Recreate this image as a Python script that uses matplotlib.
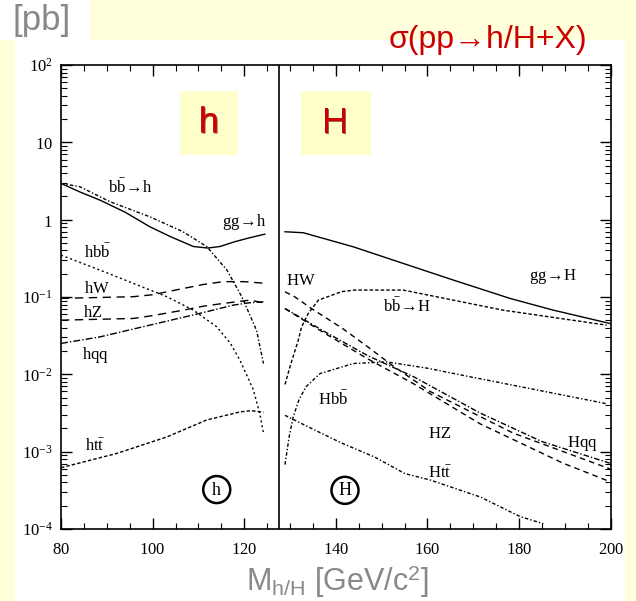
import numpy as np
import matplotlib
matplotlib.use('Agg')
import matplotlib.pyplot as plt
from matplotlib.patches import Rectangle
from matplotlib.ticker import MultipleLocator, LogLocator, FuncFormatter, NullFormatter
import matplotlib.patheffects as pe

plt.rcParams['mathtext.fontset'] = 'custom'
plt.rcParams['mathtext.rm'] = 'Liberation Serif'
plt.rcParams['mathtext.it'] = 'Liberation Serif:italic'
plt.rcParams['mathtext.sf'] = 'Liberation Sans'

# light higgs h (left half), cross sections in pb
x_gg_h = [80, 84, 88.5, 94, 99.4, 104, 108.9, 112, 114.7, 118, 121, 124.5]
gg_h = [2.95, 2.3, 1.79, 1.25, 0.81, 0.6, 0.45, 0.43, 0.45, 0.52, 0.58, 0.65]
x_bb_h = [80, 84.1, 90.7, 99.4, 106.6, 111.8, 116.2, 119.5, 122.7, 124.2]
bb_h = [2.95, 2.67, 1.71, 1.09, 0.70, 0.45, 0.224, 0.10, 0.037, 0.0138]
x_hbb = [80, 88.5, 95.8, 103.1, 108.9, 114, 117, 119.1, 122, 123.4, 124.2]
hbb = [0.348, 0.223, 0.150, 0.101, 0.0676, 0.0412, 0.0251, 0.0151, 0.0063, 0.0031, 0.00174]
x_hW = [80, 95.8, 100, 106.7, 111, 115.4, 120, 124.2]
hW = [0.096, 0.101, 0.107, 0.129, 0.145, 0.158, 0.158, 0.151]
x_hZ = [80, 95.8, 100, 106.7, 111, 115.4, 121.3, 124.2]
hZ = [0.0502, 0.0528, 0.0575, 0.0676, 0.0759, 0.0826, 0.0912, 0.0841]
x_hqq = [80, 88.5, 99.4, 110.3, 117.6, 121, 124.2]
hqq = [0.0251, 0.0305, 0.0433, 0.0614, 0.0785, 0.0841, 0.0867]
x_htt = [80, 92.2, 103.1, 111.8, 119.1, 121.5, 124.2]
htt = [6.2e-4, 9.5e-4, 1.55e-3, 2.57e-3, 3.27e-3, 3.39e-3, 3.24e-3]

# heavy higgs H (right half)
x_gg_H = [128.9, 132.9, 143.8, 154.7, 165.6, 178, 187.5, 199.8]
gg_H = [0.698, 0.678, 0.446, 0.272, 0.166, 0.096, 0.0676, 0.0455]
x_bb_H = [128.9, 130, 131.1, 131.8, 132.5, 134, 136.2, 141.3, 144.2, 154.7, 165.6, 176.5, 199.1]
bb_H = [0.0074, 0.0126, 0.0204, 0.0275, 0.0407, 0.0617, 0.0912, 0.1175, 0.123, 0.123, 0.0912, 0.0676, 0.0433]
x_Hbb = [128.9, 129.8, 130.7, 132, 133.5, 136.5, 143.8, 151.1, 160, 169.3, 183.8, 199.1]
Hbb = [6.8e-4, 1.55e-3, 2.82e-3, 4.79e-3, 6.92e-3, 0.0102, 0.0138, 0.0145, 0.0120, 0.0093, 0.0063, 0.00417]
x_HW = [128.9, 131.1, 134.7, 141.3, 147.1, 152.2, 160.6, 178.7, 199.8]
HW = [0.117, 0.100, 0.0708, 0.0398, 0.0224, 0.0132, 0.0060, 0.00174, 0.00060]
x_Hqq = [128.9, 137.6, 147, 157, 171.5, 185, 199.8]
Hqq = [0.0711, 0.0355, 0.0174, 0.0093, 0.00316, 0.00135, 0.00071]
x_HZ = [128.9, 137.6, 147, 156.9, 171.5, 189.6, 199.8]
HZ = [0.0708, 0.0339, 0.0158, 0.0076, 0.00229, 0.00071, 0.00041]
x_Htt = [128.9, 134, 141.3, 148.5, 155.1, 160.6, 171.5, 180.2, 185.3]
Htt = [0.00295, 0.00209, 0.00129, 0.00085, 0.00052, 0.00043, 0.00026, 0.000145, 0.000117]

m_split = 127.65

yellow = '#ffffdc'
fig = plt.figure(figsize=(6.36, 6.01), dpi=100)
fig.patch.set_facecolor('white')
# cream bands round the plot
for r in [(0.1415, 0.9334, 0.8585, 0.0666), (0, 0, 0.0236, 0.9334), (0.9827, 0, 0.0173, 0.9334)]:
    fig.patches.append(Rectangle(r[:2], r[2], r[3], transform=fig.transFigure,
                                 facecolor=yellow, edgecolor='none', zorder=-5))

ax = fig.add_axes([0.0959, 0.1198, 0.8643, 0.772])
ax.set_yscale('log')
ax.set_xlim(80, 200)
ax.set_ylim(1e-4, 1e2)

lw = 1.0
ax.plot(x_gg_h, gg_h, color='k', lw=lw)
ax.plot(x_bb_h, bb_h, color='k', lw=lw, ls=(0, (2.5, 1.5, 1, 1.5)))
ax.plot(x_hbb, hbb, color='k', lw=lw, ls=(0, (1.5, 2)))
ax.plot(x_hW, hW, color='k', lw=lw, ls=(0, (6, 4)))
ax.plot(x_hZ, hZ, color='k', lw=lw, ls=(0, (6, 4)))
ax.plot(x_hqq, hqq, color='k', lw=lw, ls=(0, (5, 1.5, 1, 1.5)))
ax.plot(x_htt, htt, color='k', lw=lw, ls=(0, (2.5, 1.5)))

ax.plot(x_gg_H, gg_H, color='k', lw=lw)
ax.plot(x_bb_H, bb_H, color='k', lw=lw, ls=(0, (2.5, 1.5)))
ax.plot(x_Hbb, Hbb, color='k', lw=lw, ls=(0, (2.5, 1.5, 1, 1.5)))
ax.plot(x_HW, HW, color='k', lw=lw, ls=(0, (4, 3)))
ax.plot(x_HZ, HZ, color='k', lw=lw, ls=(0, (4, 3)))
ax.plot(x_Hqq, Hqq, color='k', lw=lw, ls=(0, (4, 1.5, 1, 1.5)))
ax.plot(x_Htt, Htt, color='k', lw=lw, ls=(0, (2.5, 1.5, 1, 1.5)))

ax.axvline(m_split, color='k', lw=1.2)

# curve labels
lab = dict(fontsize=12, ha='center', va='center')
ax.text(95.1, 10**0.42, r'$\mathrm{b\bar{b}\!\rightarrow\! h}$', **lab)
ax.text(120, 10**-0.03, r'$\mathrm{gg\!\rightarrow\! h}$', **lab)
ax.text(87.9, 10**-0.42, r'$\mathrm{hb\bar{b}}$', **lab)
ax.text(87.9, 10**-0.885, r'$\mathrm{hW}$', **lab)
ax.text(87.0, 10**-1.195, r'$\mathrm{hZ}$', **lab)
ax.text(87.6, 10**-1.75, r'$\mathrm{hqq}$', **lab)
ax.text(87.4, 10**-2.93, r'$\mathrm{ht\bar{t}}$', **lab)
ax.text(132.4, 10**-0.78, r'$\mathrm{HW}$', **lab)
ax.text(155.5, 10**-1.13, r'$\mathrm{b\bar{b}\!\rightarrow\! H}$', **lab)
ax.text(187.4, 10**-0.74, r'$\mathrm{gg\!\rightarrow\! H}$', **lab)
ax.text(139.4, 10**-2.33, r'$\mathrm{Hb\bar{b}}$', **lab)
ax.text(162.7, 10**-2.76, r'$\mathrm{HZ}$', **lab)
ax.text(162.7, 10**-3.27, r'$\mathrm{Ht\bar{t}}$', **lab)
ax.text(193.7, 10**-2.90, r'$\mathrm{Hqq}$', **lab)

circ = dict(boxstyle='circle,pad=0.25', fc='white', ec='k', lw=1.8)
ax.text(114, 10**-3.49, r'$\mathrm{h}$', fontsize=13, ha='center', va='center', bbox=circ)
ax.text(142, 10**-3.50, r'$\mathrm{H}$', fontsize=13, ha='center', va='center', bbox=circ)

# red panel tags on cream boxes
shadow = [pe.withSimplePatchShadow(offset=(0.8, -0.8), shadow_rgbFace='#500000', alpha=0.6), pe.Normal()]
for x0, w, xc, s in [(0.2165, 0.1055, 0.269, 'h'), (0.4366, 0.1274, 0.4985, 'H')]:
    ax.add_patch(Rectangle((x0, 0.806), w, 0.138, transform=ax.transAxes,
                           facecolor='#ffffcc', edgecolor='none', zorder=1))
    ax.text(xc, 0.875, s, transform=ax.transAxes, fontsize=26, color='#cc0000',
            ha='center', va='center', family='Liberation Sans', zorder=2,
            path_effects=shadow)

# axes ticks
ax.xaxis.set_major_locator(MultipleLocator(20))
ax.xaxis.set_minor_locator(MultipleLocator(5))
ax.yaxis.set_major_locator(LogLocator(base=10, numticks=10))
ax.yaxis.set_minor_locator(LogLocator(base=10, subs=np.arange(2, 10), numticks=20))
ax.yaxis.set_minor_formatter(NullFormatter())


def ylab(v, pos):
    e = int(round(np.log10(v)))
    if e == 0:
        return r'$\mathrm{1}$'
    if e == 1:
        return r'$\mathrm{10}$'
    return r'$\mathrm{10^{%d}}$' % e


ax.yaxis.set_major_formatter(FuncFormatter(ylab))
ax.xaxis.set_major_formatter(FuncFormatter(lambda v, p: r'$\mathrm{%d}$' % v))
ax.tick_params(which='both', direction='in', top=True, right=True, labelsize=12)
ax.tick_params(which='major', length=8, width=1)
ax.tick_params(which='minor', length=4, width=0.8)
ax.tick_params(axis='x', pad=8)
ax.tick_params(axis='y', pad=6)
for sp in ax.spines.values():
    sp.set_linewidth(1.2)

fig.text(0.767, 0.933, 'σ(pp→h/H+X)', color='#cc0000', fontsize=23,
         ha='center', va='center', family='Liberation Sans')
fig.text(0.066, 0.966, '[pb]', color='#888888', fontsize=25,
         ha='center', va='center', family='Liberation Sans')
fig.text(0.531, 0.032, r'M$_{\mathsf{h/H}}$ [GeV/c$^{\mathsf{2}}$]', color='#888888',
         fontsize=22, ha='center', va='center', family='Liberation Sans')

fig.savefig('out.png', dpi=100)
